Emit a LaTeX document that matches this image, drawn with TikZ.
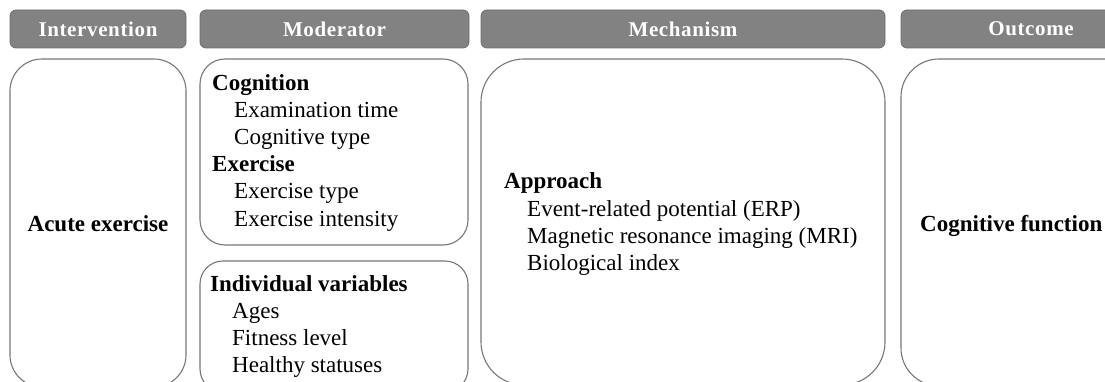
\documentclass[tikz,border=0pt]{standalone}
\usepackage{fontspec}
\setmainfont{Liberation Serif}
\definecolor{hdrfill}{HTML}{828282}
\definecolor{hdrline}{HTML}{6E6E6E}
\definecolor{cardline}{HTML}{777777}
\begin{document}
\begin{tikzpicture}[x=1pt,y=-1pt,
  hdr/.style={draw=hdrline, fill=hdrfill, rounded corners=6pt, line width=0.8pt,
    minimum height=38pt, inner sep=0pt, text=white,
    font=\fontsize{21}{25}\selectfont\bfseries\addfontfeature{LetterSpace=3}},
  card/.style={draw=cardline, line width=1.1pt},
  headtxt/.style={font=\fontsize{23}{27}\selectfont\bfseries, anchor=base west, inner sep=0pt},
  itemtxt/.style={font=\fontsize{23}{27}\selectfont, anchor=base west, inner sep=0pt},
  midtxt/.style={font=\fontsize{23}{27}\selectfont\bfseries, anchor=base, inner sep=0pt},
]
\useasboundingbox (0,0) rectangle (1105,382);
\clip (0,0) rectangle (1105,382);

% headers
\node[hdr, minimum width=176pt] (hInt) at (98,29) {Intervention};
\node[hdr, minimum width=269pt] (hMod) at (334.5,29) {Moderator};
\node[hdr, minimum width=404pt] (hMech) at (683,29) {Mechanism};
\node[hdr, minimum width=260pt] (hOut) at (1031,29) {Outcome};

% cards
\draw[card, rounded corners=32pt] (10,59) rectangle (186,387);
\draw[card, rounded corners=25pt] (200,59) rectangle (468,245);
\draw[card, rounded corners=23pt] (200,261) rectangle (468,392);
\draw[card, rounded corners=43pt] (481,59) rectangle (885,385);
\draw[card, rounded corners=38pt] (901,59) rectangle (1160,386);

% intervention
\node[midtxt] (acute) at (98,231) {Acute exercise};

% moderator top
\node[headtxt] (cog) at (212,91) {Cognition};
\node[itemtxt] (exam) at (234,118) {Examination time};
\node[itemtxt] (cogtype) at (234,145) {Cognitive type};
\node[headtxt] (exer) at (212,172) {Exercise};
\node[itemtxt] (extype) at (234,199) {Exercise type};
\node[itemtxt] (exint) at (234,226) {Exercise intensity};

% moderator bottom
\node[headtxt] (indiv) at (210,291) {Individual variables};
\node[itemtxt] (ages) at (232,318) {Ages};
\node[itemtxt] (fit) at (232,345) {Fitness level};
\node[itemtxt] (health) at (232,372) {Healthy statuses};

% mechanism
\node[headtxt] (appr) at (504,189) {Approach};
\node[itemtxt] (erp) at (527,216) {Event-related potential (ERP)};
\node[itemtxt] (mri) at (527,243) {Magnetic resonance imaging (MRI)};
\node[itemtxt] (bio) at (527,270) {Biological index};

% outcome
\node[headtxt] (cogfun) at (920,231) {Cognitive function};
\end{tikzpicture}
\end{document}
